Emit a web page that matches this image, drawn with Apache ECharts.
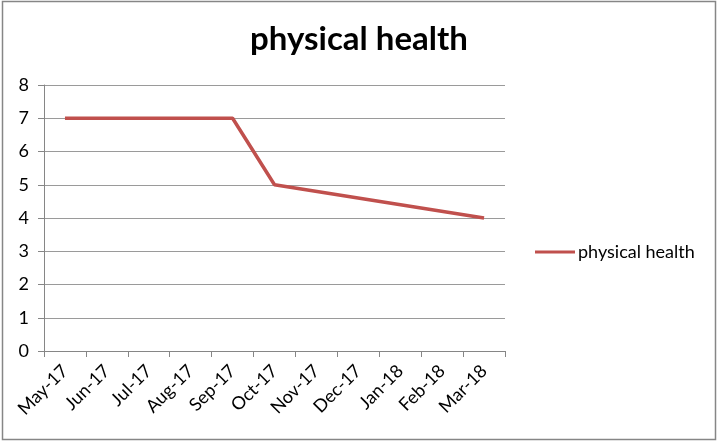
<!DOCTYPE html>
<html>
<head>
<meta charset="utf-8">
<script src="https://cdn.jsdelivr.net/npm/echarts@6/dist/echarts.min.js"></script>
<style>
  html, body { margin: 0; padding: 0; background: #fff; }
  #chartContainer { width: 718px; height: 443px; }
</style>
</head>
<body>
<div id="chartContainer"></div>
<script>
// months on the x axis
var months = ['May-17', 'Jun-17', 'Jul-17', 'Aug-17', 'Sep-17', 'Oct-17',
              'Nov-17', 'Dec-17', 'Jan-18', 'Feb-18', 'Mar-18'];
// only the points that show as corners in the picture
var physicalHealth = [7, null, null, null, 7, 5, null, null, null, null, 4];
var yTicks = [0, 1, 2, 3, 4, 5, 6, 7, 8];

var chart = echarts.init(document.getElementById('chartContainer'), null, { renderer: 'canvas' });

var option = {
    backgroundColor: '#fff',
    animation: false,
    title: {
        text: 'physical health',
        left: 'center',
        top: 18,
        textStyle: {
            fontFamily: 'Lato',
            fontWeight: 'bold',
            fontSize: 33,
            color: '#000'
        }
    },
    legend: {
        left: 535,
        top: 243,
        padding: 0,
        itemWidth: 40,
        itemHeight: 20,
        itemGap: 0,
        data: [{ name: 'physical health', icon: 'path://M0,8.5 L40,8.5 L40,11.5 L0,11.5 Z' }],
        textStyle: { fontFamily: 'Lato', fontSize: 18, color: '#000', padding: [0, 0, 0, -2] }
    },
    grid: { left: 44, right: 213, top: 85, bottom: 92 },
    xAxis: {
        type: 'category',
        data: months,
        boundaryGap: true,
        axisLine: { lineStyle: { color: '#868686', width: 1 } },
        axisTick: { show: true, length: 6, alignWithLabel: false, lineStyle: { color: '#868686' } },
        axisLabel: {
            rotate: 45,
            interval: 0,
            margin: 17,
            fontFamily: 'Lato',
            fontSize: 18,
            color: '#000'
        },
        splitLine: { show: false }
    },
    yAxis: {
        type: 'value',
        min: yTicks[0],
        max: yTicks[yTicks.length - 1],
        interval: 1,
        axisLine: { show: true, lineStyle: { color: '#868686', width: 1 } },
        axisTick: { show: true, length: 6, lineStyle: { color: '#868686' } },
        axisLabel: { margin: 15, fontFamily: 'Lato', fontSize: 18, color: '#000' },
        splitLine: { show: true, lineStyle: { color: '#9a9a9a', width: 1 } }
    },
    series: [
        {
            name: 'physical health',
            type: 'line',
            data: physicalHealth,
            connectNulls: true,
            symbol: 'none',
            lineStyle: { color: '#C0504D', width: 3.5 },
            itemStyle: { color: '#C0504D' }
        }
    ],
    graphic: [
        {
            type: 'rect',
            shape: { x: 2.5, y: 1.5, width: 713, height: 438 },
            style: { fill: 'none', stroke: '#868686', lineWidth: 1.5 },
            silent: true
        }
    ]
};

chart.setOption(option);
window.addEventListener('resize', chart.resize);
</script>
</body>
</html>
